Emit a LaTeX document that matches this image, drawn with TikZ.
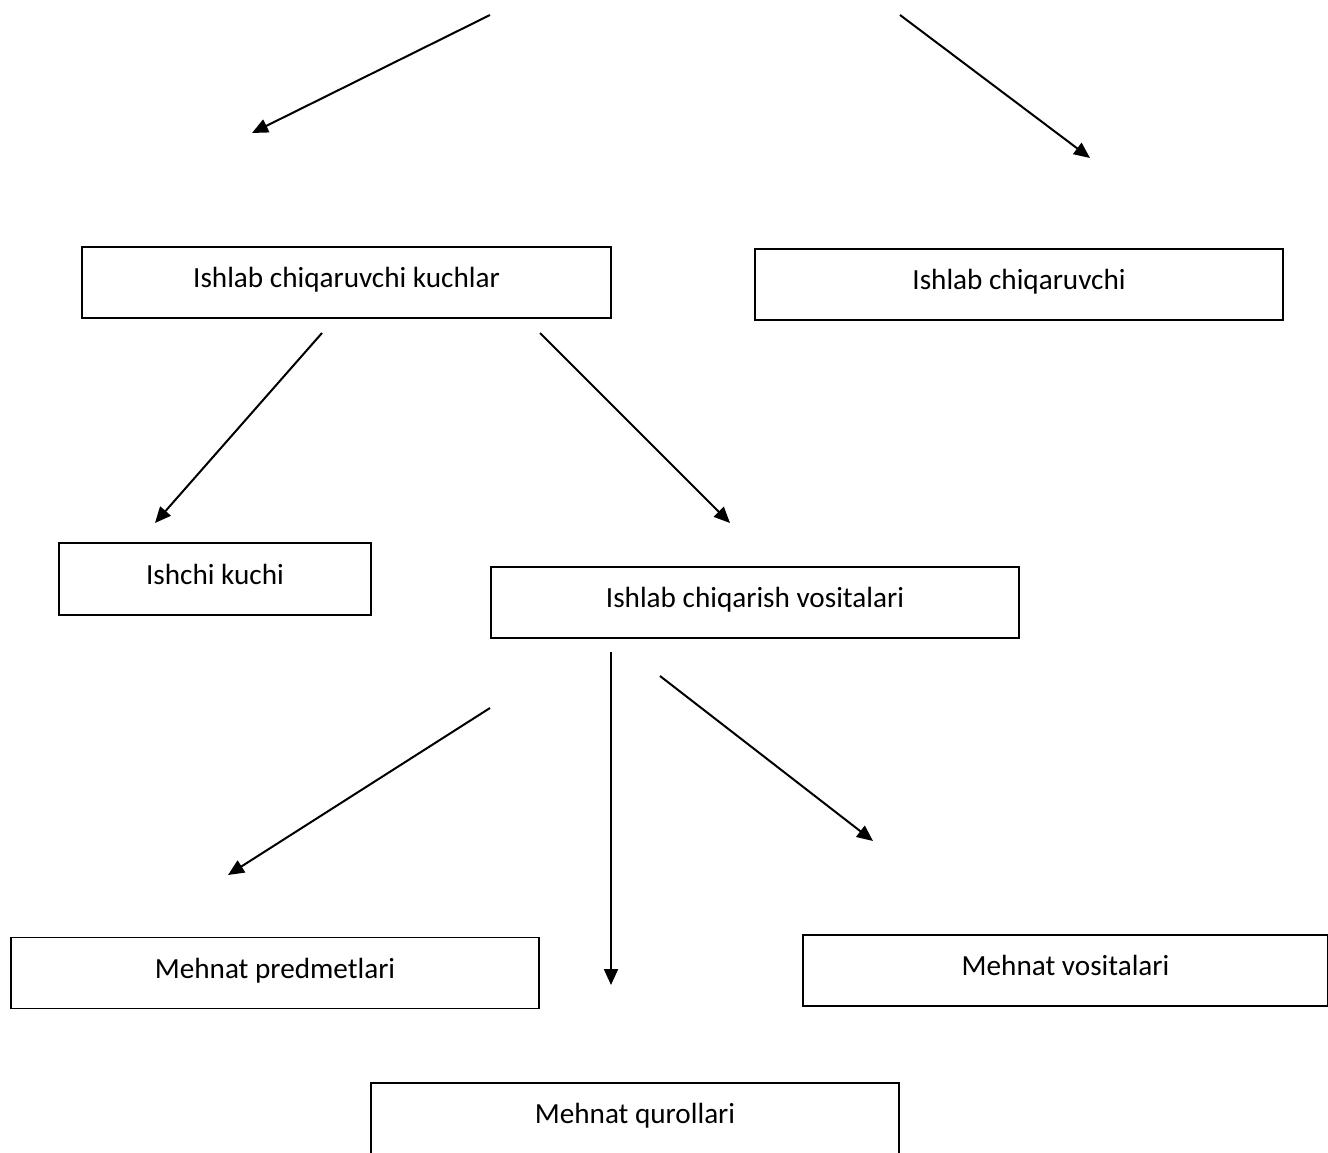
\documentclass[tikz,border=0pt]{standalone}
\usepackage{fontspec}
\setmainfont{Carlito}
\usetikzlibrary{arrows.meta}
\begin{document}
\begin{tikzpicture}[x=1pt, y=-1pt,
		box/.style={draw, line width=1.6pt, minimum height=71pt, text height=20pt, text depth=10pt, inner sep=0pt,
			font=\fontsize{29.2}{34}\selectfont},
		arr/.style={line width=2pt, -{Triangle[length=16pt,width=14pt]}}]
	\useasboundingbox (0,0) rectangle (1328,1153);
	% boxes
	\node[box, minimum width=529pt] (Kuchlar) at (346.5,282.5) {Ishlab chiqaruvchi kuchlar};
	\node[box, minimum width=528pt] (Chiq) at (1019,284.5) {Ishlab chiqaruvchi};
	\node[box, minimum width=312pt, minimum height=72pt] (Ishchi) at (215,579) {Ishchi kuchi};
	\node[box, minimum width=528pt] (Vosita) at (755,602.5) {Ishlab chiqarish vositalari};
	\node[box, minimum width=528pt] (Predmet) at (275,973) {Mehnat predmetlari};
	\node[box, minimum width=525pt] (MVosita) at (1065.5,970.5) {Mehnat vositalari};
	\node[box, minimum width=528pt, minimum height=90pt, text depth=30pt] (Qurol) at (635,1128) {Mehnat qurollari};
	% arrow ends
	\coordinate (t1) at (490,15);
	\coordinate (e1) at (252,133);
	\coordinate (t2) at (900,15);
	\coordinate (e2) at (1090,158);
	\coordinate (s3) at (322,333);
	\coordinate (e3) at (155,523);
	\coordinate (s4) at (540,333);
	\coordinate (e4) at (730,523);
	\coordinate (s5) at (490,708);
	\coordinate (e5) at (228,875);
	\coordinate (s6) at (611,652);
	\coordinate (e6) at (611,985);
	\coordinate (s7) at (660,676);
	\coordinate (e7) at (873,841);
	% arrows
	\draw[arr] (t1) -- (e1);
	\draw[arr] (t2) -- (e2);
	\draw[arr] (s3) -- (e3);
	\draw[arr] (s4) -- (e4);
	\draw[arr] (s5) -- (e5);
	\draw[arr] (s6) -- (e6);
	\draw[arr] (s7) -- (e7);
\end{tikzpicture}
\end{document}
